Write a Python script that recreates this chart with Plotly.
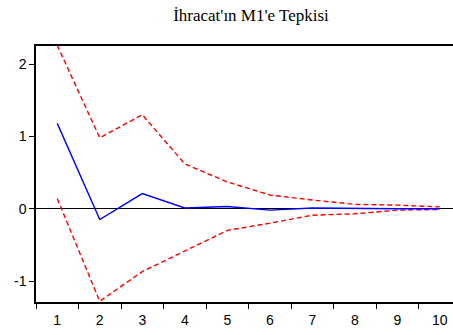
import plotly.graph_objects as go

periods = [1, 2, 3, 4, 5, 6, 7, 8, 9, 10]
response = [1.18, -0.15, 0.21, 0.01, 0.03, -0.02, 0.01, 0.0, 0.0, 0.0]
upper = [2.26, 0.98, 1.30, 0.62, 0.37, 0.19, 0.12, 0.06, 0.05, 0.025]
lower = [0.14, -1.28, -0.87, -0.59, -0.30, -0.20, -0.09, -0.07, -0.02, -0.01]
y_ticks = [-1, 0, 1, 2]
title = "İhracat'ın M1'e Tepkisi"

fig = go.Figure()
fig.add_trace(go.Scatter(x=periods, y=upper, mode="lines",
                         line=dict(color="#ff0000", width=1.4, dash="5px,3px")))
fig.add_trace(go.Scatter(x=periods, y=lower, mode="lines",
                         line=dict(color="#ff0000", width=1.4, dash="5px,3px")))
fig.add_trace(go.Scatter(x=periods, y=response, mode="lines",
                         line=dict(color="#0000ff", width=1.4)))

boundaries = [p - 0.5 for p in periods]

fig.update_layout(
    width=453, height=335,
    margin=dict(l=36, r=0, t=46, b=33, autoexpand=False),
    paper_bgcolor="white", plot_bgcolor="white",
    showlegend=False,
    title=dict(text=title, x=251 / 453, xanchor="center", xref="container",
               y=1 - 15 / 335, yanchor="middle",
               font=dict(family="Liberation Serif", size=17, color="black")),
    font=dict(family="Liberation Sans", size=14, color="black"),
)
fig.update_xaxes(
    range=[0.5, 10.31], showgrid=False, zeroline=False, automargin=False,
    showline=True, linecolor="black", linewidth=1.5, mirror=True,
    tickvals=periods, ticktext=[str(p) for p in periods], ticks="",
    ticklabelstandoff=4,
    minor=dict(tickvals=boundaries, ticks="outside", ticklen=5, tickcolor="black", tickwidth=1),
)
fig.update_yaxes(
    range=[-1.29, 2.25], showgrid=False, automargin=False,
    zeroline=True, zerolinecolor="black", zerolinewidth=1,
    showline=True, linecolor="black", linewidth=1.5,
    tickvals=y_ticks, ticktext=[str(v) for v in y_ticks],
    ticks="outside", ticklen=5, tickcolor="black",
)
fig.write_html("out.html", config={"displayModeBar": False},
               post_script="document.body.style.margin='0px';document.body.style.overflow='hidden';")
